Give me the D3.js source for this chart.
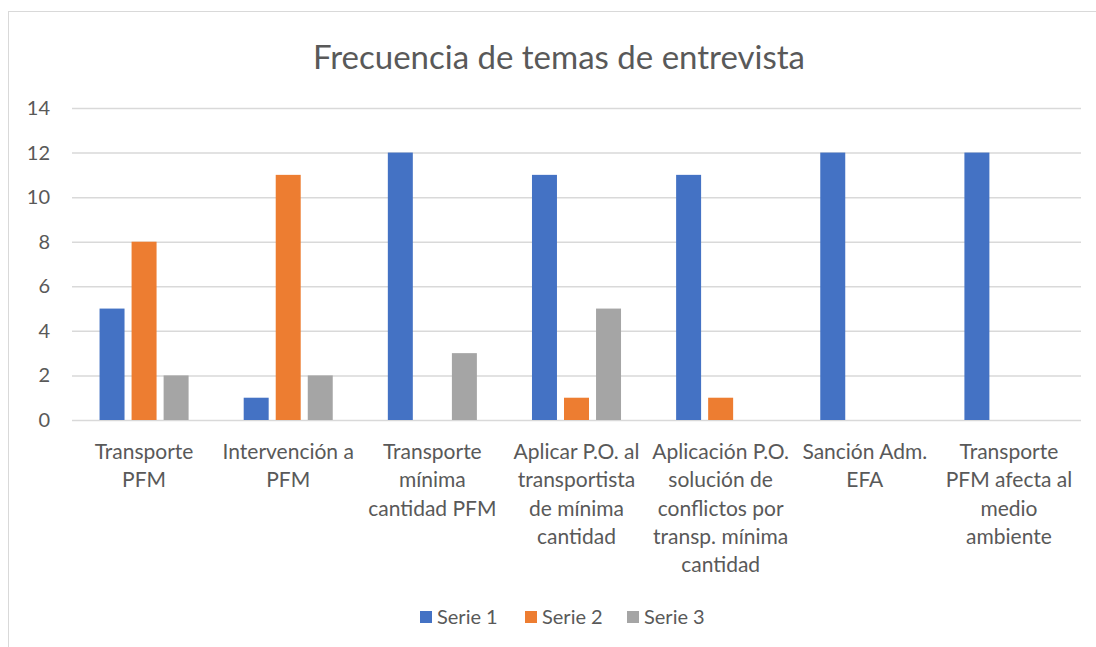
<!DOCTYPE html>
<html>
<head>
  <meta charset="UTF-8">
  <style>
    body { margin: 0; background: #fff; font-family: Lato, "Open Sans", sans-serif; }
    svg { display: block; }
  </style>
</head>
<body>
  <svg></svg>
  <script src="https://d3js.org/d3.v7.min.js"></script>
  <script>
    // chart data
    let categories = [
      ["Transporte", "PFM"],
      ["Intervención a", "PFM"],
      ["Transporte", "mínima", "cantidad PFM"],
      ["Aplicar P.O. al", "transportista", "de mínima", "cantidad"],
      ["Aplicación P.O.", "solución de", "conflictos por", "transp. mínima", "cantidad"],
      ["Sanción Adm.", "EFA"],
      ["Transporte", "PFM afecta al", "medio", "ambiente"]
    ];
    let seriesNames = ["Serie 1", "Serie 2", "Serie 3"];
    let serie1 = [5, 1, 12, 11, 11, 12, 12];
    let serie2 = [8, 11, 0, 1, 1, 0, 0];
    let serie3 = [2, 2, 3, 5, 0, 0, 0];
    let yTicks = [0, 2, 4, 6, 8, 10, 12, 14];
    let colors = ["#4472C4", "#ED7D31", "#A5A5A5"];

    let width = 1096, height = 647;
    let svg = d3.select("svg").attr("width", width).attr("height", height);

    // outer frame of the chart
    svg.append("rect")
      .attr("x", 8.5).attr("y", 11.5)
      .attr("width", 1100).attr("height", 700)
      .attr("fill", "none").attr("stroke", "#d9d9d9");

    let plotLeft = 72, plotRight = 1081, plotTop = 108, plotBottom = 420;

    let idx = categories.map((c, i) => i);
    let x0 = d3.scaleBand().domain(idx).range([plotLeft, plotRight]);
    let x1 = d3.scaleBand().domain(seriesNames).range([0, x0.bandwidth()])
      .paddingInner(0.22).paddingOuter(0.86);
    let y = d3.scaleLinear().domain([0, 14]).range([plotBottom, plotTop]);

    // title
    svg.append("text")
      .attr("x", 559).attr("y", 69)
      .attr("text-anchor", "middle")
      .attr("fill", "#595959")
      .style("font-size", "33px")
      .text("Frecuencia de temas de entrevista");

    // gridlines
    svg.append("g").selectAll("line")
      .data(yTicks)
      .enter().append("line")
      .attr("x1", plotLeft).attr("x2", plotRight)
      .attr("y1", d => y(d) + 0.5).attr("y2", d => y(d) + 0.5)
      .attr("stroke", "#d9d9d9").attr("stroke-width", 1.5);

    // y axis labels
    svg.append("g").selectAll("text")
      .data(yTicks)
      .enter().append("text")
      .attr("x", 50).attr("y", d => y(d))
      .attr("dy", "0.35em")
      .attr("text-anchor", "end")
      .attr("fill", "#595959")
      .style("font-size", "20px")
      .text(d => d);

    // bars
    let series = [serie1, serie2, serie3];
    let rows = [];
    series.forEach((vals, s) => vals.forEach((v, i) => rows.push({ s: s, i: i, v: v })));

    svg.append("g").selectAll("rect")
      .data(rows.filter(d => d.v > 0))
      .enter().append("rect")
      .attr("x", d => x0(d.i) + x1(seriesNames[d.s]))
      .attr("y", d => y(d.v))
      .attr("width", x1.bandwidth())
      .attr("height", d => y(0) - y(d.v))
      .attr("fill", d => colors[d.s]);

    // category labels
    let catG = svg.append("g").selectAll("text")
      .data(categories)
      .enter().append("text")
      .attr("text-anchor", "middle")
      .attr("fill", "#595959")
      .style("font-size", "21px");
    catG.selectAll("tspan")
      .data((d, i) => d.map(line => ({ line: line, i: i })))
      .enter().append("tspan")
      .attr("x", d => x0(d.i) + x0.bandwidth() / 2)
      .attr("y", (d, j) => 459 + j * 28.3)
      .text(d => d.line);

    // legend
    let legendX = [420, 525, 627];
    let legend = svg.append("g").selectAll("g")
      .data(seriesNames)
      .enter().append("g")
      .attr("transform", (d, i) => `translate(${legendX[i]}, 617)`);
    legend.append("rect")
      .attr("x", 0).attr("y", -6)
      .attr("width", 12).attr("height", 12)
      .attr("fill", (d, i) => colors[i]);
    legend.append("text")
      .attr("x", 17).attr("y", 0)
      .attr("dy", "0.35em")
      .attr("fill", "#595959")
      .style("font-size", "20px")
      .text(d => d);
  </script>
</body>
</html>
